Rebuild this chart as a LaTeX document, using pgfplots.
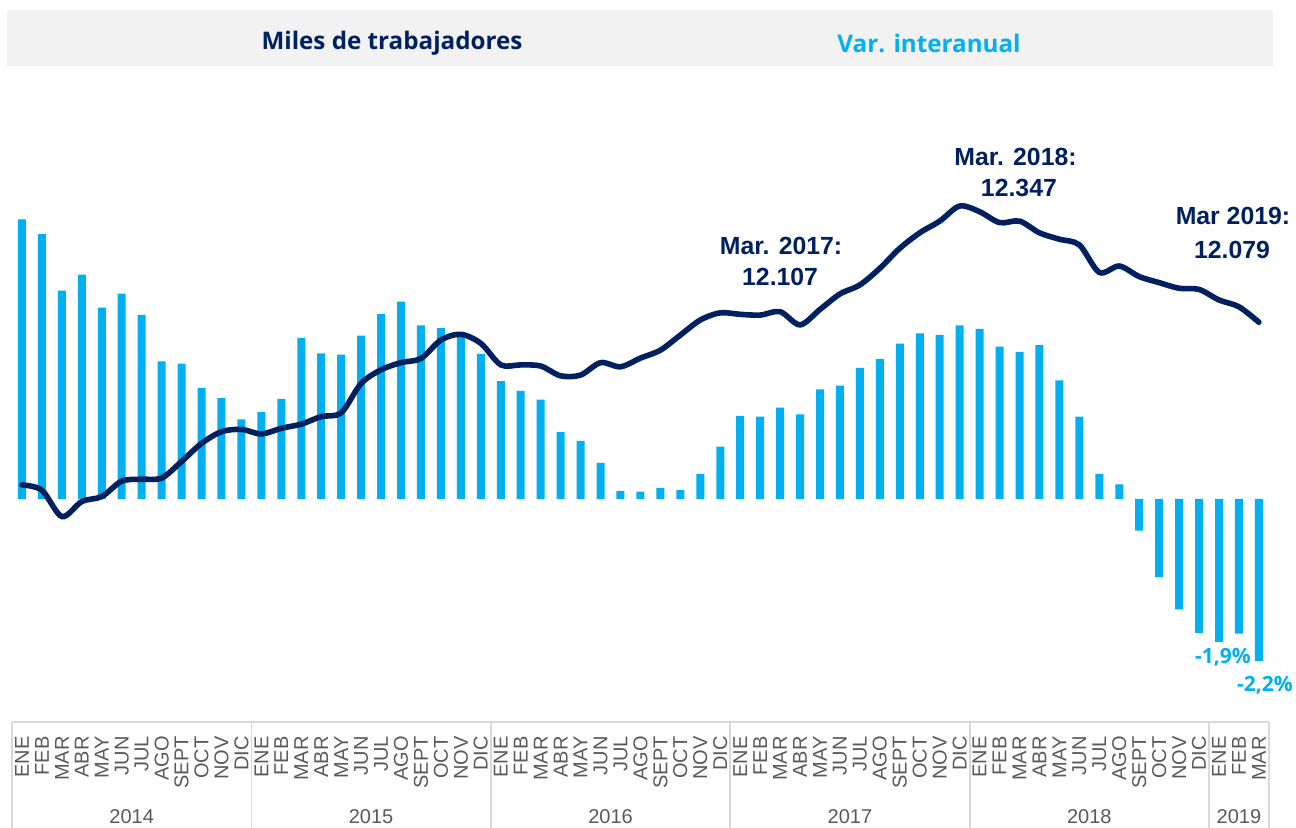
\documentclass[border=0pt]{standalone}
\usepackage{pgfplots}
\usepackage{pgfplotstable}
\pgfplotsset{compat=1.18}
\usepackage{fontspec}
\setmainfont{Liberation Sans}
\newfontfamily\opensans{Open Sans}
\definecolor{barblue}{RGB}{0,176,240}
\definecolor{navy}{RGB}{0,32,96}
\definecolor{txtgray}{RGB}{89,89,89}
\definecolor{bandgray}{RGB}{242,242,242}
\definecolor{boxline}{RGB}{217,217,217}

\pgfplotstableread{
i var
0 3.80
1 3.60
2 2.83
3 3.05
4 2.60
5 2.79
6 2.50
7 1.87
8 1.84
9 1.51
10 1.37
11 1.08
12 1.18
13 1.36
14 2.19
15 1.98
16 1.96
17 2.22
18 2.51
19 2.68
20 2.36
21 2.32
22 2.24
23 1.97
24 1.60
25 1.47
26 1.35
27 0.91
28 0.79
29 0.49
30 0.11
31 0.10
32 0.15
33 0.12
34 0.34
35 0.71
36 1.13
37 1.12
38 1.24
39 1.15
40 1.49
41 1.54
42 1.78
43 1.90
44 2.11
45 2.25
46 2.23
47 2.36
48 2.31
49 2.07
50 2.00
51 2.09
52 1.61
53 1.12
54 0.34
55 0.20
56 -0.43
57 -1.06
58 -1.50
59 -1.82
60 -1.94
61 -1.83
62 -2.20
}\vardata

\pgfplotstableread{
i miles
0 11648
1 11634
2 11564
3 11604
4 11617
5 11658
6 11663
7 11666
8 11710
9 11758
10 11789
11 11795
12 11783
13 11798
14 11809
15 11829
16 11839
17 11917
18 11953
19 11972
20 11983
21 12032
22 12047
23 12023
24 11966
25 11966
26 11963
27 11937
28 11939
29 11972
30 11961
31 11984
32 12005
33 12045
34 12085
35 12104
36 12100
37 12098
38 12107
39 12072
40 12113
41 12154
42 12178
43 12222
44 12275
45 12316
46 12347
47 12387
48 12372
49 12343
50 12347
51 12316
52 12299
53 12284
54 12211
55 12228
56 12200
57 12184
58 12169
59 12166
60 12138
61 12120
62 12079
}\linedata

\begin{document}
\begin{tikzpicture}
% header band
\fill[bandgray] (3.5pt,381pt) rectangle (636.5pt,409pt);
\node[font=\opensans\bfseries\fontsize{12.1}{14}\selectfont, text=navy] at (196pt,392.5pt) {Miles de trabajadores};
\node[font=\opensans\bfseries\fontsize{12.1}{14}\selectfont, text=barblue] at (464.5pt,392.5pt) {Var. interanual};

\begin{axis}[
  at={(6pt,53pt)}, anchor=south west, scale only axis,
  width=628.45pt, height=316pt,
  xmin=-0.5, xmax=62.5, ymin=-3.03, ymax=5.557,
  axis line style={draw=none},
  ytick=\empty,
  xtick={0,...,62},
  xticklabels={ENE,FEB,MAR,ABR,MAY,JUN,JUL,AGO,SEPT,OCT,NOV,DIC,
               ENE,FEB,MAR,ABR,MAY,JUN,JUL,AGO,SEPT,OCT,NOV,DIC,
               ENE,FEB,MAR,ABR,MAY,JUN,JUL,AGO,SEPT,OCT,NOV,DIC,
               ENE,FEB,MAR,ABR,MAY,JUN,JUL,AGO,SEPT,OCT,NOV,DIC,
               ENE,FEB,MAR,ABR,MAY,JUN,JUL,AGO,SEPT,OCT,NOV,DIC,
               ENE,FEB,MAR},
  major tick length=0pt,
  xticklabel style={rotate=90, anchor=east, inner sep=0pt,
    font=\fontsize{10}{11}\selectfont, text=txtgray},
  xticklabel shift=7pt,
  clip=false,
]
\addplot[ybar, bar width=4pt, fill=barblue, draw=none] table[x=i, y=var] {\vardata};
% year boxes
\draw[boxline, line width=0.9pt] (axis cs:-0.5,-3.03) -- (axis cs:62.5,-3.03);
\pgfplotsinvokeforeach{-0.5,11.5,23.5,35.5,47.5,59.5,62.5}{
  \draw[boxline, line width=0.9pt] (axis cs:#1,-3.03) -- ++(0pt,-53pt);
}
\node[font=\fontsize{10}{12}\selectfont, text=txtgray, yshift=-47.3pt] at (axis cs:5.5,-3.03) {2014};
\node[font=\fontsize{10}{12}\selectfont, text=txtgray, yshift=-47.3pt] at (axis cs:17.5,-3.03) {2015};
\node[font=\fontsize{10}{12}\selectfont, text=txtgray, yshift=-47.3pt] at (axis cs:29.5,-3.03) {2016};
\node[font=\fontsize{10}{12}\selectfont, text=txtgray, yshift=-47.3pt] at (axis cs:41.5,-3.03) {2017};
\node[font=\fontsize{10}{12}\selectfont, text=txtgray, yshift=-47.3pt] at (axis cs:53.5,-3.03) {2018};
\node[font=\fontsize{10}{12}\selectfont, text=txtgray, yshift=-47.3pt] at (axis cs:61,-3.03) {2019};
% percent labels
\node[font=\opensans\bfseries\fontsize{10.5}{12}\selectfont, text=barblue] at (axis cs:60.2,-2.147) {-1,9\%};
\node[font=\opensans\bfseries\fontsize{10.5}{12}\selectfont, text=barblue] at (axis cs:62.3,-2.527) {-2,2\%};
\end{axis}

\begin{axis}[
  at={(6pt,53pt)}, anchor=south west, scale only axis,
  width=628.45pt, height=316pt,
  xmin=-0.5, xmax=62.5, ymin=11019.7, ymax=12694.5,
  hide axis, clip=false,
]
\addplot[navy, line width=2.8pt, smooth, line cap=round] table[x=i, y=miles] {\linedata};
\node[font=\bfseries\fontsize{12.4}{14}\selectfont, text=navy] at (axis cs:38.05,12281) {Mar. 2017:};
\node[font=\bfseries\fontsize{12.4}{14}\selectfont, text=navy] at (axis cs:38,12199) {12.107};
\node[font=\bfseries\fontsize{12.4}{14}\selectfont, text=navy] at (axis cs:49.8,12517) {Mar. 2018:};
\node[font=\bfseries\fontsize{12.4}{14}\selectfont, text=navy] at (axis cs:49.97,12435) {12.347};
\node[font=\bfseries\fontsize{12.4}{14}\selectfont, text=navy] at (axis cs:60.7,12361) {Mar 2019:};
\node[font=\bfseries\fontsize{12.4}{14}\selectfont, text=navy] at (axis cs:60.65,12270) {12.079};
\end{axis}

\pgfresetboundingbox
\path[use as bounding box] (0pt,0pt) rectangle (648pt,414pt);
\end{tikzpicture}
\end{document}
